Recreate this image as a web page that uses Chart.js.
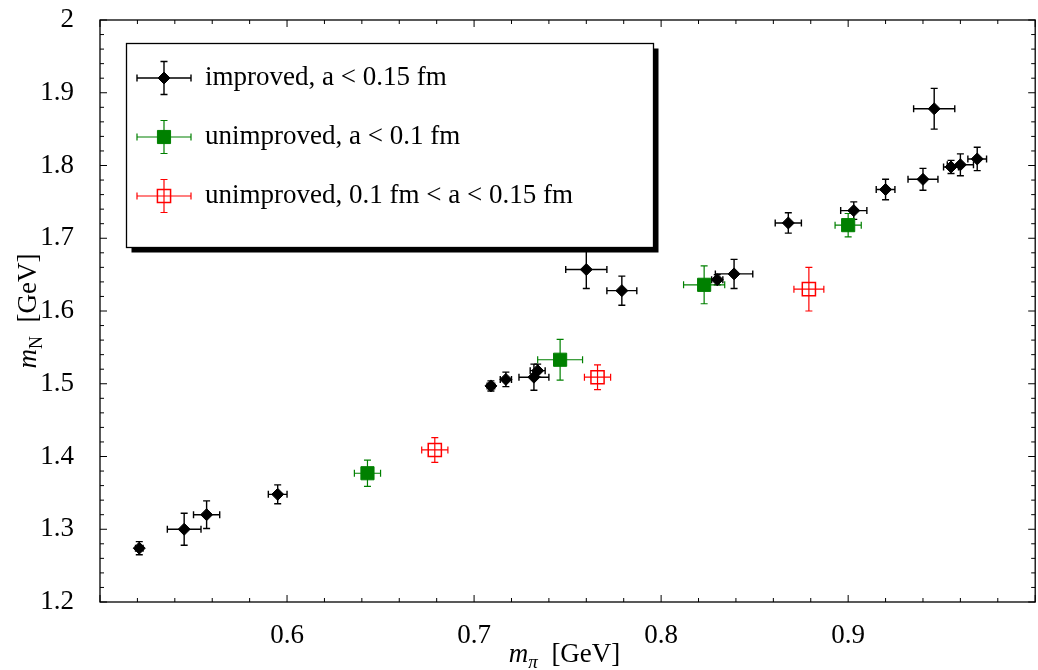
<!DOCTYPE html>
<html lang="en">
<head>
<meta charset="UTF-8">
<title>Nucleon mass vs pion mass</title>
<script src="https://cdn.jsdelivr.net/npm/chart.js@4.4.1/dist/chart.umd.min.js"></script>
<style>
  html, body { margin: 0; padding: 0; background: #fff; overflow: hidden; }
  #wrap { position: absolute; left: 0; top: 0; width: 1046px; height: 670px; }
</style>
</head>
<body>
<div id="wrap"><canvas id="massChart"></canvas></div>
<script>
// improved action, a < 0.15 fm
const impMpi    = [0.521, 0.545, 0.557, 0.595, 0.709, 0.717, 0.732, 0.734, 0.760, 0.779,
                   0.830, 0.839, 0.868, 0.903, 0.920, 0.940, 0.955, 0.960, 0.969, 0.946];
const impMN     = [1.274, 1.300, 1.320, 1.348, 1.497, 1.506, 1.509, 1.518, 1.657, 1.628,
                   1.643, 1.651, 1.721, 1.738, 1.767, 1.781, 1.798, 1.801, 1.809, 1.878];
const impMpiErr = [0.002, 0.009, 0.007, 0.005, 0.002, 0.003, 0.008, 0.004, 0.011, 0.008,
                   0.003, 0.010, 0.007, 0.007, 0.005, 0.008, 0.004, 0.007, 0.005, 0.011];
const impMNErr  = [0.009, 0.022, 0.019, 0.013, 0.007, 0.010, 0.018, 0.009, 0.026, 0.020,
                   0.007, 0.020, 0.014, 0.012, 0.014, 0.015, 0.009, 0.015, 0.016, 0.028];

// unimproved, a < 0.1 fm
const fineMpi    = [0.643, 0.746, 0.823, 0.900];
const fineMN     = [1.377, 1.533, 1.636, 1.718];
const fineMpiErr = [0.007, 0.012, 0.011, 0.007];
const fineMNErr  = [0.018, 0.028, 0.026, 0.016];

// unimproved, 0.1 fm < a < 0.15 fm
const coarseMpi    = [0.679, 0.766, 0.879];
const coarseMN     = [1.409, 1.509, 1.630];
const coarseMpiErr = [0.007, 0.007, 0.008];
const coarseMNErr  = [0.017, 0.017, 0.030];

const seriesLabels = ['improved, a < 0.15 fm', 'unimproved, a < 0.1 fm', 'unimproved, 0.1 fm < a < 0.15 fm'];
const xTickValues = [0.6, 0.7, 0.8, 0.9];
const yTickValues = [1.2, 1.3, 1.4, 1.5, 1.6, 1.7, 1.8, 1.9, 2.0];

const FONT = '"Liberation Serif", "Times New Roman", serif';
const CAP = 3.5;

function points(xs, ys) {
  return xs.map((v, i) => ({ x: v, y: ys[i] }));
}

// horizontal + vertical error bars, drawn under the markers
const errorBars = {
  id: 'errorBars',
  beforeDatasetsDraw(chart) {
    const { ctx, scales: { x, y } } = chart;
    chart.data.datasets.forEach(ds => {
      ctx.save();
      ctx.strokeStyle = ds.barColor;
      ctx.lineWidth = ds.barWidth;
      ds.data.forEach((p, j) => {
        const px = x.getPixelForValue(p.x), py = y.getPixelForValue(p.y);
        const x0 = x.getPixelForValue(p.x - ds.xErr[j]), x1 = x.getPixelForValue(p.x + ds.xErr[j]);
        const y0 = y.getPixelForValue(p.y - ds.yErr[j]), y1 = y.getPixelForValue(p.y + ds.yErr[j]);
        ctx.beginPath();
        ctx.moveTo(x0, py); ctx.lineTo(x1, py);
        ctx.moveTo(x0, py - CAP); ctx.lineTo(x0, py + CAP);
        ctx.moveTo(x1, py - CAP); ctx.lineTo(x1, py + CAP);
        ctx.moveTo(px, y0); ctx.lineTo(px, y1);
        ctx.moveTo(px - CAP, y0); ctx.lineTo(px + CAP, y0);
        ctx.moveTo(px - CAP, y1); ctx.lineTo(px + CAP, y1);
        ctx.stroke();
      });
      ctx.restore();
    });
  }
};

function drawMarker(ctx, ds, cx, cy) {
  ctx.save();
  ctx.fillStyle = ds.backgroundColor;
  ctx.strokeStyle = ds.borderColor;
  ctx.lineWidth = ds.borderWidth;
  ctx.beginPath();
  if (ds.pointStyle === 'rectRot') {
    const r = ds.pointRadius;
    ctx.moveTo(cx - r, cy); ctx.lineTo(cx, cy - r);
    ctx.lineTo(cx + r, cy); ctx.lineTo(cx, cy + r);
  } else {
    const h = Math.SQRT1_2 * ds.pointRadius;
    ctx.rect(cx - h, cy - h, 2 * h, 2 * h);
  }
  ctx.closePath();
  ctx.fill();
  ctx.stroke();
  ctx.restore();
}

// text made of pieces (italic symbol, subscript, unit), centred on (cx, base)
function drawTitle(ctx, parts, cx, base, rotate) {
  ctx.save();
  ctx.translate(cx, base);
  if (rotate) ctx.rotate(-Math.PI / 2);
  ctx.fillStyle = '#000';
  ctx.textBaseline = 'alphabetic';
  let w = 0;
  parts.forEach(p => { ctx.font = p.font; w += ctx.measureText(p.t).width; });
  let pos = -w / 2;
  parts.forEach(p => {
    ctx.font = p.font;
    ctx.fillText(p.t, pos, p.dy || 0);
    pos += ctx.measureText(p.t).width;
  });
  ctx.restore();
}

// frame with inward ticks on all four sides, plus axis titles
const frame = {
  id: 'frame',
  afterDraw(chart) {
    const { ctx, chartArea: a, scales: { x, y } } = chart;
    ctx.save();
    ctx.strokeStyle = '#000';
    ctx.lineWidth = 1.3;
    ctx.strokeRect(a.left, a.top, a.right - a.left, a.bottom - a.top);

    ctx.lineWidth = 1;
    ctx.beginPath();
    for (let k = 0; k <= 25; k++) {
      const px = x.getPixelForValue(0.5 + k * 0.02);
      const len = k % 5 === 0 ? 7 : 4;
      ctx.moveTo(px, a.bottom); ctx.lineTo(px, a.bottom - len);
      ctx.moveTo(px, a.top); ctx.lineTo(px, a.top + len);
    }
    for (let k = 0; k <= 40; k++) {
      const py = y.getPixelForValue(1.2 + k * 0.02);
      const len = k % 5 === 0 ? 7 : 4;
      ctx.moveTo(a.left, py); ctx.lineTo(a.left + len, py);
      ctx.moveTo(a.right, py); ctx.lineTo(a.right - len, py);
    }
    ctx.stroke();
    ctx.restore();

    drawTitle(ctx, [
      { t: 'm', font: 'italic 27px ' + FONT },
      { t: 'π', font: 'italic 19px ' + FONT, dy: 6 },
      { t: '  [GeV]', font: '27px ' + FONT }
    ], (a.left + a.right) / 2 - 3, 662, false);
    drawTitle(ctx, [
      { t: 'm', font: 'italic 27px ' + FONT },
      { t: 'N', font: '18px ' + FONT, dy: 6 },
      { t: '  [GeV]', font: '27px ' + FONT }
    ], 36, (a.top + a.bottom) / 2, true);
  }
};

// boxed legend with a drop shadow
const boxLegend = {
  id: 'boxLegend',
  afterDraw(chart) {
    const ctx = chart.ctx;
    const bx = 126.5, by = 43.5, bw = 527, bh = 204;
    ctx.save();
    ctx.fillStyle = '#000';
    ctx.fillRect(bx + 5, by + 5, bw, bh);
    ctx.fillStyle = '#fff';
    ctx.fillRect(bx, by, bw, bh);
    ctx.strokeStyle = '#000';
    ctx.lineWidth = 1.3;
    ctx.strokeRect(bx, by, bw, bh);

    ctx.font = '27px ' + FONT;
    ctx.textBaseline = 'middle';
    chart.data.datasets.forEach((ds, i) => {
      const cx = 164, cy = 78 + i * 59;
      ctx.strokeStyle = ds.barColor;
      ctx.lineWidth = ds.barWidth;
      ctx.beginPath();
      ctx.moveTo(cx - 27, cy); ctx.lineTo(cx + 27, cy);
      ctx.moveTo(cx - 27, cy - CAP); ctx.lineTo(cx - 27, cy + CAP);
      ctx.moveTo(cx + 27, cy - CAP); ctx.lineTo(cx + 27, cy + CAP);
      ctx.moveTo(cx, cy - 16.5); ctx.lineTo(cx, cy + 16.5);
      ctx.moveTo(cx - CAP, cy - 16.5); ctx.lineTo(cx + CAP, cy - 16.5);
      ctx.moveTo(cx - CAP, cy + 16.5); ctx.lineTo(cx + CAP, cy + 16.5);
      ctx.stroke();
      drawMarker(ctx, ds, cx, cy);
      ctx.fillStyle = '#000';
      ctx.fillText(ds.label, 205, cy);
    });
    ctx.restore();
  }
};

new Chart(document.getElementById('massChart'), {
  type: 'scatter',
  data: {
    datasets: [
      {
        label: seriesLabels[0],
        data: points(impMpi, impMN),
        xErr: impMpiErr, yErr: impMNErr,
        pointStyle: 'rectRot', pointRadius: 6,
        backgroundColor: '#000', borderColor: '#000', borderWidth: 1,
        barColor: '#000', barWidth: 1.4
      },
      {
        label: seriesLabels[1],
        data: points(fineMpi, fineMN),
        xErr: fineMpiErr, yErr: fineMNErr,
        pointStyle: 'rect', pointRadius: 9.3,
        backgroundColor: '#008000', borderColor: '#008000', borderWidth: 1,
        barColor: '#008000', barWidth: 1.2
      },
      {
        label: seriesLabels[2],
        data: points(coarseMpi, coarseMN),
        xErr: coarseMpiErr, yErr: coarseMNErr,
        pointStyle: 'rect', pointRadius: 9.3,
        backgroundColor: 'rgba(0,0,0,0)', borderColor: '#ff0000', borderWidth: 1.5,
        barColor: '#ff0000', barWidth: 1.2
      }
    ]
  },
  options: {
    responsive: true,
    maintainAspectRatio: false,
    animation: false,
    events: [],
    layout: { padding: { top: 20, right: 4, left: 0, bottom: 0 } },
    plugins: { legend: { display: false }, tooltip: { enabled: false } },
    scales: {
      x: {
        type: 'linear', min: 0.5, max: 1.0,
        grid: { display: false }, border: { display: false },
        afterBuildTicks: s => { s.ticks = xTickValues.map(v => ({ value: v })); },
        afterFit: s => { s.height = 68; s.paddingLeft = 0; s.paddingRight = 0; },
        ticks: { color: '#000', padding: 10, maxRotation: 0, autoSkip: false,
                 font: { family: FONT, size: 27 },
                 callback: v => String(+v.toFixed(1)) }
      },
      y: {
        type: 'linear', min: 1.2, max: 2.0,
        grid: { display: false }, border: { display: false },
        afterBuildTicks: s => { s.ticks = yTickValues.map(v => ({ value: v })); },
        afterFit: s => { s.width = 100; s.paddingTop = 0; s.paddingBottom = 0; },
        ticks: { color: '#000', padding: 18, autoSkip: false,
                 font: { family: FONT, size: 27 },
                 callback: v => String(+v.toFixed(1)) }
      }
    }
  },
  plugins: [errorBars, frame, boxLegend]
});
</script>
</body>
</html>
